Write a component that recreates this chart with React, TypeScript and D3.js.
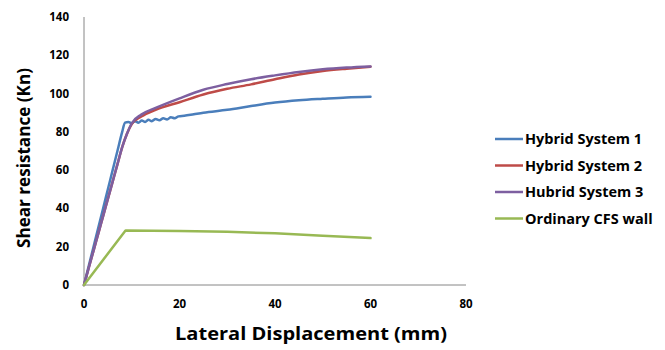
import React from 'react';
import * as d3 from 'd3';

// displacement (mm), shear (kN) pairs
const hybrid1: [number, number][] = [
  [0, 0], [1, 10], [2, 20], [3, 30], [4, 40], [5, 50], [6, 60], [7, 70], [8, 80], [8.6, 84.8],
  [9.3, 85.2], [10, 84.5], [10.7, 85.6], [11.4, 84.8], [12.1, 85.9], [12.8, 85.2], [13.5, 86.3],
  [14.2, 85.6], [15, 86.7], [15.8, 86], [16.6, 87.1], [17.4, 86.5], [18.2, 87.6], [19, 87.1],
  [19.8, 88.1], [21, 88.4], [23, 89.2], [25, 90], [30, 91.5], [35, 93.5], [40, 95.3], [45, 96.5],
  [50, 97.3], [55, 98], [60, 98.3],
];
const hybrid2: [number, number][] = [
  [0, 0], [1, 9], [2, 18], [3, 27], [4, 36], [5, 45], [6, 54], [7, 63], [8, 72], [9, 79],
  [10, 84], [12, 88], [15, 91.5], [20, 95.5], [25, 99.5], [30, 102.5], [35, 104.8], [40, 107.5],
  [45, 110], [50, 111.8], [55, 113], [60, 114],
];
const hybrid3: [number, number][] = [
  [0, 0], [1, 9], [2, 18], [3, 27], [4, 36], [5, 45], [6, 54], [7, 63], [8, 72], [9, 79],
  [10, 84.5], [12, 89], [15, 92.5], [20, 97.5], [25, 102], [30, 105], [35, 107.5], [40, 109.5],
  [45, 111.3], [50, 112.7], [55, 113.6], [60, 114.2],
];
const ordinary: [number, number][] = [
  [0, 0], [8.7, 28.5], [20, 28.2], [30, 27.8], [40, 27], [50, 25.7], [60, 24.5],
];

const seriesNames = ['Hybrid System 1', 'Hybrid System 2', 'Hubrid System 3', 'Ordinary CFS wall'];
const seriesData = [hybrid1, hybrid2, hybrid3, ordinary];
const colors = ['#4a7ebb', '#be4b48', '#7d5fa0', '#98b954'];

const xTicks = [0, 20, 40, 60, 80];
const yTicks = [0, 20, 40, 60, 80, 100, 120, 140];

const font = '"Open Sans", "Liberation Sans", Arial, sans-serif';

export default function App() {
  const width = 665;
  const height = 350;

  const x = d3.scaleLinear().domain([0, 80]).range([84, 466]);
  const y = d3.scaleLinear().domain([0, 140]).range([285, 17]);

  const smooth = d3.line<[number, number]>()
    .x(d => x(d[0]))
    .y(d => y(d[1]))
    .curve(d3.curveMonotoneX);
  const straight = d3.line<[number, number]>()
    .x(d => x(d[0]))
    .y(d => y(d[1]));

  return (
    <svg width={width} height={height} style={{ position: 'absolute', left: 0, top: 0 }}>
      <rect width={width} height={height} fill="#fff" />

      {/* axes */}
      <line x1={x(0)} x2={x(0)} y1={y(140)} y2={y(0)} stroke="#868686" strokeWidth={1} />
      <line x1={x(0)} x2={x(80)} y1={y(0)} y2={y(0)} stroke="#868686" strokeWidth={1} />

      {yTicks.map(t => (
        <text key={'y' + t} x={69} y={y(t)} dy="0.35em" textAnchor="end"
          fontFamily={font} fontSize={11.5} fontWeight="bold" fill="#000">{t}</text>
      ))}
      {xTicks.map(t => (
        <text key={'x' + t} x={x(t)} y={304} dy="0.35em" textAnchor="middle"
          fontFamily={font} fontSize={11.5} fontWeight="bold" fill="#000">{t}</text>
      ))}

      {/* series */}
      {seriesData.map((d, i) => (
        <path key={i} d={(i === 3 ? straight(d) : smooth(d)) || ''} fill="none" stroke={colors[i]}
          strokeWidth={2.5} strokeLinejoin="round" strokeLinecap="round" />
      ))}

      {/* axis titles */}
      <text x={311} y={334} dy="0.35em" textAnchor="middle" fontFamily={font}
        fontSize={18} fontWeight="bold" fill="#000" textLength={272}
        lengthAdjust="spacingAndGlyphs">Lateral Displacement (mm)</text>
      <text transform="translate(24,158) rotate(-90)" dy="0.35em" textAnchor="middle"
        fontFamily={font} fontSize={18} fontWeight="bold" fill="#000" textLength={180}
        lengthAdjust="spacingAndGlyphs">Shear resistance (Kn)</text>

      {/* legend */}
      {seriesNames.map((name, i) => {
        const ly = 139 + i * 26.5;
        return (
          <g key={name}>
            <line x1={495} x2={523} y1={ly} y2={ly} stroke={colors[i]} strokeWidth={2.5} />
            <text x={525} y={ly} dy="0.35em" fontFamily={font} fontSize={14.5}
              fontWeight="bold" fill="#000">{name}</text>
          </g>
        );
      })}
    </svg>
  );
}
